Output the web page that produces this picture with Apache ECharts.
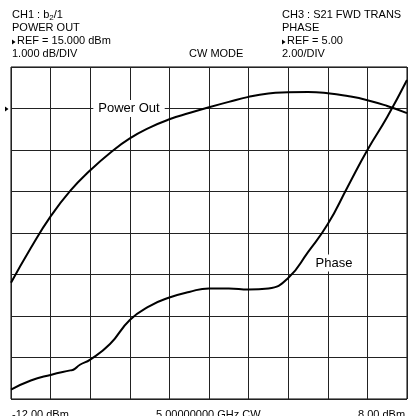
<!DOCTYPE html>
<html>
<head>
<meta charset="utf-8">
<script src="https://cdn.jsdelivr.net/npm/echarts@6/dist/echarts.min.js"></script>
<style>
html, body { margin: 0; padding: 0; background: #fff; }
#main { width: 409px; height: 416px; }
</style>
</head>
<body>
<div id="main"></div>
<script>
// 输入功率 (dBm) 与输出功率 (dBm)
var powerIn = [-12, -11, -10, -9, -8, -7, -6, -5, -4, -3, -2, -1, 0, 1, 2, 3, 4, 5, 6, 7, 8];
var powerOut = [10.80, 11.64, 12.40, 13.02, 13.51, 13.93, 14.28, 14.54, 14.74, 14.89, 15.03, 15.16, 15.28, 15.36, 15.39, 15.40, 15.37, 15.30, 15.20, 15.06, 14.89];

// 相位曲线
var phaseIn = [-12, -11, -10, -9, -8.85, -8.52, -8, -7, -6, -5, -4, -3, -2, -1, 0, 1, 2, 3, 4, 5, 6, 7, 8];
var phaseVal = [-8.55, -8.11, -7.84, -7.62, -7.59, -7.35, -7.10, -6.35, -5.19, -4.52, -4.11, -3.84, -3.67, -3.67, -3.72, -3.67, -3.17, -1.92, -0.57, 1.22, 3.0, 4.59, 6.37];

// 刻度/标注文字
var headLeft = ['{a|CH1 : b}{s|2}{a|/1}', 'POWER OUT', 'REF = 15.000 dBm', '1.000 dB/DIV'];
var headRight = ['CH3 : S21 FWD TRANS', 'PHASE', 'REF = 5.00', '2.00/DIV'];
var footLabels = ['-12.00 dBm', '5.00000000 GHz CW', '8.00 dBm'];

function pairs(xs, ys) {
    var out = [];
    for (var i = 0; i < xs.length; i++) out.push([xs[i], ys[i]]);
    return out;
}

var FONT = '"Liberation Sans", Arial, sans-serif';
var myChart = echarts.init(document.getElementById('main'));

function txt(x, y, s) {
    return {
        type: 'text', left: x, top: y,
        style: {
            text: s, fill: '#000', font: '11px ' + FONT,
            rich: {
                a: { fontSize: 11, fontFamily: FONT, fill: '#000' },
                s: { fontSize: 8, fontFamily: FONT, fill: '#000', padding: [5, 0, 0, 0] }
            }
        }
    };
}

var rowY = [9.5, 22.5, 35.5, 48];
var graphics = [];
for (var i = 0; i < 4; i++) {
    graphics.push(txt(i == 2 ? 17 : 12, rowY[i], headLeft[i]));
    graphics.push(txt(i == 2 ? 287 : 282, rowY[i], headRight[i]));
}
graphics.push(txt(189, rowY[3], 'CW MODE'));
graphics.push(txt(12, 409, footLabels[0]));
graphics.push(txt(156, 409, footLabels[1]));
graphics.push(txt(358, 409, footLabels[2]));
// 小三角形标记
graphics.push({ type: 'polygon', shape: { points: [[12, 39.5], [15.5, 42], [12, 44.5]] }, style: { fill: '#000' } });
graphics.push({ type: 'polygon', shape: { points: [[282, 39.5], [285.5, 42], [282, 44.5]] }, style: { fill: '#000' } });
graphics.push({ type: 'polygon', shape: { points: [[5, 106.5], [8.5, 109], [5, 111.5]] }, style: { fill: '#000' } });

var gridLine = { show: true, lineStyle: { color: '#222', width: 1 } };

option = {
    animation: false,
    backgroundColor: '#fff',
    grid: { left: 11, right: 2, top: 67, bottom: 17, show: true, borderColor: '#000', borderWidth: 1 },
    xAxis: {
        type: 'value', min: -12, max: 8, interval: 2,
        axisLabel: { show: false }, axisTick: { show: false }, axisLine: { show: false },
        splitLine: gridLine
    },
    yAxis: [
        {
            type: 'value', min: 8, max: 16, interval: 1,
            axisLabel: { show: false }, axisTick: { show: false }, axisLine: { show: false },
            splitLine: gridLine
        },
        {
            type: 'value', min: -9, max: 7,
            axisLabel: { show: false }, axisTick: { show: false }, axisLine: { show: false },
            splitLine: { show: false }
        }
    ],
    graphic: graphics,
    series: [
        {
            name: 'Power Out', type: 'line', yAxisIndex: 0,
            data: pairs(powerIn, powerOut), smooth: 0.5, symbol: 'none',
            lineStyle: { color: '#000', width: 2 },
            markPoint: {
                symbol: 'rect', symbolSize: 1, itemStyle: { color: 'rgba(0,0,0,0)' },
                label: { show: true, position: 'inside', formatter: 'Power Out', color: '#000', fontSize: 13, fontFamily: FONT, backgroundColor: '#fff', padding: [2, 5] },
                data: [{ coord: [-6.04, 15] }]
            }
        },
        {
            name: 'Phase', type: 'line', yAxisIndex: 1,
            data: pairs(phaseIn, phaseVal), smooth: 0.5, symbol: 'none',
            lineStyle: { color: '#000', width: 2 },
            markPoint: {
                symbol: 'rect', symbolSize: 1, itemStyle: { color: 'rgba(0,0,0,0)' },
                label: { show: true, position: 'inside', formatter: 'Phase', color: '#000', fontSize: 13, fontFamily: FONT, backgroundColor: '#fff', padding: [2, 5] },
                data: [{ coord: [4.31, -2.45] }]
            }
        }
    ]
};

myChart.setOption(option);
</script>
</body>
</html>
